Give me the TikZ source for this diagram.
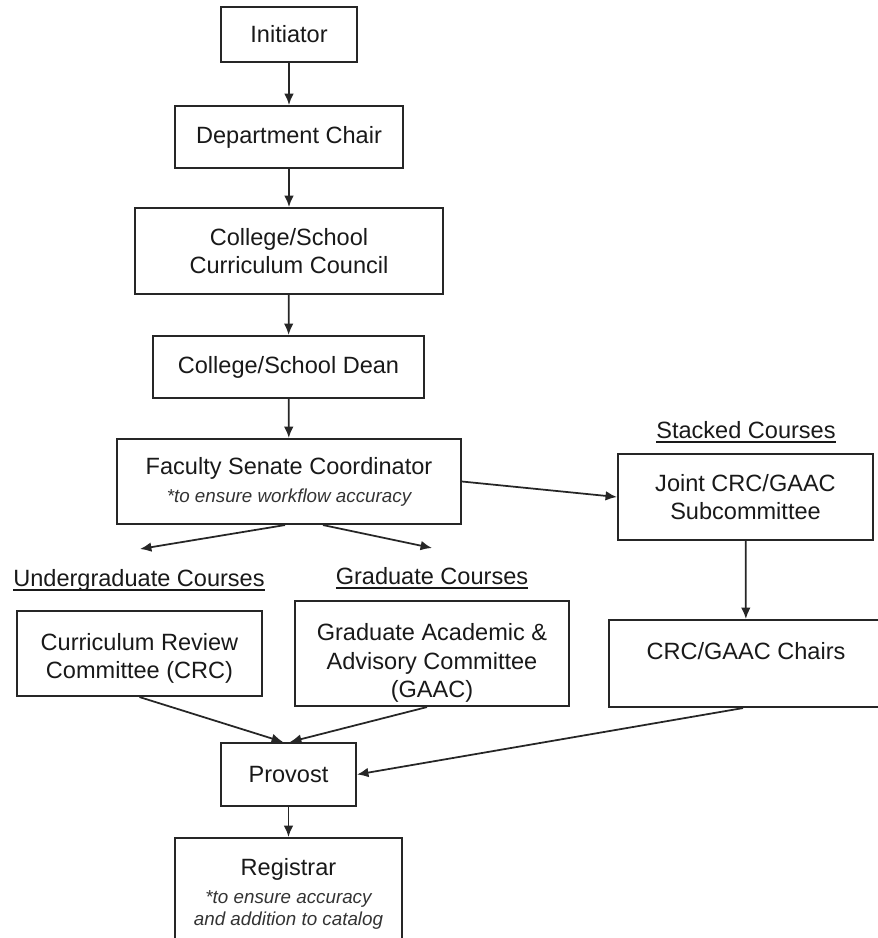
\documentclass[tikz,border=0pt]{standalone}
\usepackage{fontspec}
\setmainfont{Liberation Sans}
\usetikzlibrary{arrows.meta}
\newcommand{\notetext}{\fontsize{10.7}{12.5}\selectfont\itshape\color{black!80}}
\newcommand{\coursehead}[1]{\setbox0\hbox{#1}\rlap{\rule[-2.6pt]{\wd0}{0.8pt}}\box0}
\tikzstyle{box}=[rectangle, draw=black!85, line width=1.2pt, inner sep=0pt, align=center, text=black!90, font=\fontsize{13.4}{16}\selectfont]
\tikzstyle{heading}=[inner sep=0pt, text=black!90, font=\fontsize{13.4}{16}\selectfont]

\begin{document}
\begin{tikzpicture}[x=0.02cm,y=-0.02cm,>={Latex[length=6.5pt,width=5.5pt]}]
  \useasboundingbox (0,0) rectangle (878,938);
  \clip (0,0) rectangle (878,938);
  % main chain
  \node (init) [box, minimum width=2.72cm, minimum height=1.1cm] at (289,34.5) {Initiator};
  \node (dept) [box, minimum width=4.56cm, minimum height=1.24cm] at (289,137) {Department Chair};
  \node (council) [box, minimum width=6.16cm, minimum height=1.72cm] at (289,251) {College/School\\Curriculum Council};
  \node (dean) [box, minimum width=5.42cm, minimum height=1.24cm] at (288.5,367) {College/School Dean};
  \node (fsc) [box, minimum width=6.88cm, minimum height=1.7cm] at (289,481.5)
    {Faculty Senate Coordinator\\{\notetext *to ensure workflow accuracy}};
  % course tracks
  \node (ugrad) [heading] at (139,580) {\coursehead{Undergraduate Courses}};
  \node (grad) [heading] at (432,578) {\coursehead{Graduate Courses}};
  \node (stacked) [heading] at (746,432) {\coursehead{Stacked Courses}};
  \node (joint) [box, minimum width=5.1cm, minimum height=1.72cm] at (745.5,497) {Joint CRC/GAAC\\Subcommittee};
  \node (crc) [box, minimum width=4.9cm, minimum height=1.7cm] at (139.5,653.5)
    {\rule{0pt}{0.55cm}Curriculum Review\\Committee (CRC)};
  \node (gaac) [box, minimum width=5.48cm, minimum height=2.1cm] at (432,653.5)
    {\rule{0pt}{0.72cm}Graduate Academic \&\\Advisory Committee\\(GAAC)};
  \node (chairs) [box, minimum width=5.48cm, minimum height=1.74cm, text height=0.34cm, text depth=0.5cm] at (746,663.5) {CRC/GAAC Chairs};
  % final approval
  \node (provost) [box, minimum width=2.7cm, minimum height=1.26cm] at (288.5,774.5) {Provost};
  \node (reg) [box, minimum width=4.54cm, minimum height=2.24cm] at (288.5,894)
    {Registrar\\{\notetext *to ensure accuracy}\\[-3.5pt]{\notetext and addition to catalog}};
  \coordinate (ua) at (140,549);
  \coordinate (ga) at (432,548);
  \path[->, black!85, line width=1pt]
    (init) edge (dept)
    (dept) edge (council)
    (council) edge (dean)
    (dean) edge (fsc)
    ([xshift=-0.08cm]fsc.south) edge (ua)
    ([xshift=0.68cm]fsc.south) edge (ga)
    (fsc.east) edge (joint.west)
    (joint) edge (chairs)
    (crc.south) edge ([xshift=-0.11cm]provost.north)
    ([xshift=-0.1cm]gaac.south) edge ([xshift=0.03cm]provost.north)
    ([xshift=-0.06cm]chairs.south) edge (provost.east)
    (provost) edge (reg);
\end{tikzpicture}
\end{document}
